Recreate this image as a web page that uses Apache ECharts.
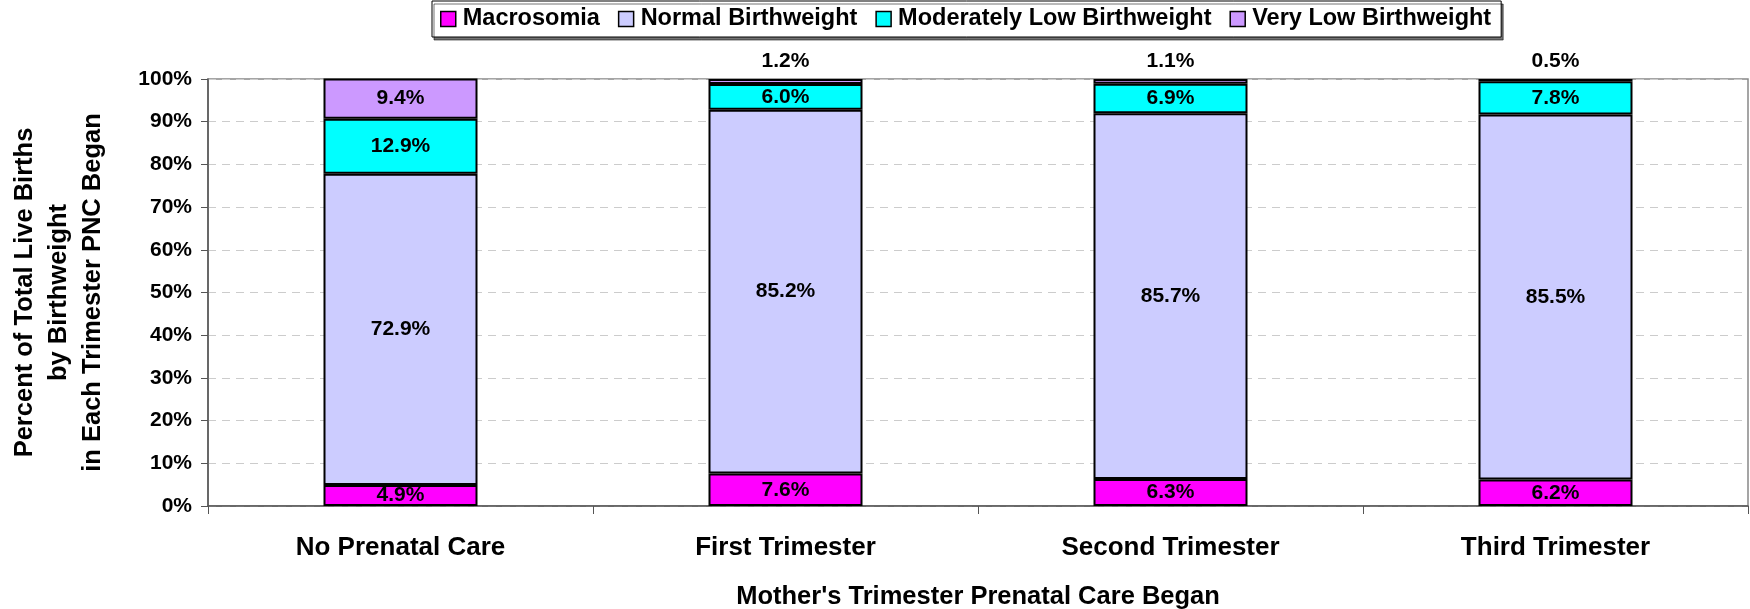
<!DOCTYPE html>
<html><head><meta charset="utf-8">
<script src="https://cdn.jsdelivr.net/npm/echarts@6/dist/echarts.min.js"></script>
<style>html,body{margin:0;padding:0;background:#fff}#c{width:1750px;height:609px}</style>
</head><body><div id="c"></div>
<script>
var categories = ['No Prenatal Care', 'First Trimester', 'Second Trimester', 'Third Trimester'];
var macrosomia = [4.9, 7.6, 6.3, 6.2];
var normalBW = [72.9, 85.2, 85.7, 85.5];
var modLowBW = [12.9, 6.0, 6.9, 7.8];
var veryLowBW = [9.4, 1.2, 1.1, 0.5];
var yTicks = [0, 10, 20, 30, 40, 50, 60, 70, 80, 90, 100];

var FONT = '"Liberation Sans", Arial, sans-serif';
var labelBase = {show: true, color: '#000', fontWeight: 'bold', fontSize: 21, fontFamily: FONT,
  formatter: function (p) { return p.value.toFixed(1) + '%'; }};

function mk(name, data, color, labelFn) {
  return {
    name: name, type: 'bar', stack: 'a', barWidth: '40%',
    itemStyle: {color: color, borderColor: '#000', borderWidth: 2},
    label: Object.assign({}, labelBase, {position: 'inside'}),
    data: data.map(function (v, i) {
      var d = {value: v};
      if (labelFn) d.label = labelFn(i);
      return d;
    })
  };
}

var chart = echarts.init(document.getElementById('c'));
chart.setOption({
  animation: false,
  textStyle: {fontFamily: FONT},
  legend: {
    top: 1, left: 432,
    data: ['Macrosomia', 'Normal Birthweight', 'Moderately Low Birthweight', 'Very Low Birthweight'],
    itemWidth: 15, itemHeight: 15, itemGap: 18,
    padding: [5, 10, 5, 8],
    borderColor: '#000', borderWidth: 1, backgroundColor: '#fff',
    shadowColor: 'rgba(0,0,0,0.55)', shadowOffsetX: 2, shadowOffsetY: 3, shadowBlur: 0,
    icon: 'rect',
    itemStyle: {borderColor: '#000', borderWidth: 1.5},
    textStyle: {fontSize: 23.5, fontWeight: 'bold', color: '#000', fontFamily: FONT, padding: [0, 0, 0, 2], lineHeight: 26}
  },
  grid: {left: 208, right: 2, top: 79, bottom: 103, show: true, borderColor: '#888', borderWidth: 1.5,
    outerBoundsMode: 'none', containLabel: false},
  xAxis: {
    type: 'category', data: categories,
    axisLine: {lineStyle: {color: '#555', width: 1.5}},
    axisTick: {show: true, length: 8, lineStyle: {color: '#555'}},
    axisLabel: {fontSize: 26, fontWeight: 'bold', color: '#000', margin: 29, fontFamily: FONT},
    name: "Mother's Trimester Prenatal Care Began", nameLocation: 'middle', nameGap: 78,
    nameTextStyle: {fontSize: 25.5, fontWeight: 'bold', color: '#000', fontFamily: FONT}
  },
  yAxis: {
    type: 'value', min: 0, max: 100, interval: 10,
    axisLine: {show: true, lineStyle: {color: '#555', width: 1.5}},
    axisTick: {show: true, length: 7, lineStyle: {color: '#555'}},
    axisLabel: {fontSize: 21, fontWeight: 'bold', color: '#000', margin: 16, fontFamily: FONT,
      formatter: function (v) { return yTicks.indexOf(v) >= 0 ? v + '%' : ''; }},
    splitLine: {lineStyle: {color: '#ccc', type: [8, 6]}},
    name: 'Percent of Total Live Births\nby Birthweight\nin Each Trimester PNC Began',
    nameLocation: 'middle', nameRotate: 90, nameGap: 98,
    nameTextStyle: {fontSize: 25.5, fontWeight: 'bold', color: '#000', lineHeight: 34, fontFamily: FONT, align: 'center'}
  },
  series: [
    mk('Macrosomia', macrosomia, '#FF00FF'),
    mk('Normal Birthweight', normalBW, '#CCCCFF'),
    mk('Moderately Low Birthweight', modLowBW, '#00FFFF'),
    mk('Very Low Birthweight', veryLowBW, '#CC99FF', function (i) {
      return i === 0 ? {position: 'inside'} : {position: 'top', distance: 7};
    })
  ]
});
</script></body></html>
